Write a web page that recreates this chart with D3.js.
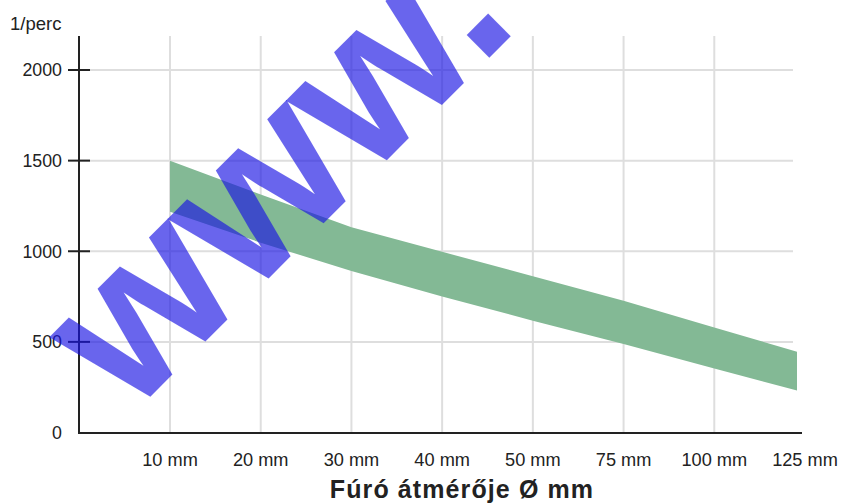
<!DOCTYPE html>
<html>
<head>
<meta charset="utf-8">
<script src="https://cdn.jsdelivr.net/npm/d3@7/dist/d3.min.js"></script>
<style>
  html, body { margin: 0; padding: 0; background: #fff; }
  svg { display: block; font-family: "Liberation Sans", Arial, Helvetica, sans-serif; }
</style>
</head>
<body>
<svg id="chart" width="845" height="503"></svg>
<script>
// ---- data ----
const categories = ["10 mm", "20 mm", "30 mm", "40 mm", "50 mm", "75 mm", "100 mm", "125 mm"];
const upperRpm = [1500, 1313, 1132, 997, 862, 727, 580, 433];
const lowerRpm = [1218, 1047, 891, 750, 617, 488, 353, 220];
const yTicks = [0, 500, 1000, 1500, 2000];
const yUnit = "1/perc";
const xTitle = "Fúró átmérője Ø mm";
const watermark = "www.";

// ---- layout ----
const svg = d3.select("#chart");
const axisX = 79, axisBottom = 433, axisTop = 36, axisRight = 802, plotRight = 797;

const x = d3.scaleLinear().domain([0, categories.length - 1]).range([170, 805]);
const y = d3.scaleLinear().domain([0, 2000]).range([432.5, 70]);

svg.append("defs").append("clipPath").attr("id", "plotClip")
  .append("rect").attr("x", axisX).attr("y", axisTop).attr("width", plotRight - axisX).attr("height", axisBottom - axisTop);

// gridlines
const grid = svg.append("g").attr("stroke", "#dedede").attr("stroke-width", 2);
grid.selectAll("line.h").data(yTicks.filter(d => d > 0)).join("line")
  .attr("x1", axisX).attr("x2", 793).attr("y1", d => y(d)).attr("y2", d => y(d));
grid.selectAll("line.v").data(categories.map((c, i) => i).filter(i => x(i) < plotRight)).join("line")
  .attr("x1", d => x(d)).attr("x2", d => x(d)).attr("y1", axisTop).attr("y2", axisBottom);

// band
const bandData = categories.map((c, i) => ({ i, hi: upperRpm[i], lo: lowerRpm[i] }));
const area = d3.area().x(d => x(d.i)).y0(d => y(d.lo)).y1(d => y(d.hi));
svg.append("path").datum(bandData).attr("clip-path", "url(#plotClip)")
  .attr("d", area).attr("fill", "#83b995");

// axes lines
svg.append("line").attr("x1", axisX).attr("x2", axisX).attr("y1", axisTop).attr("y2", axisBottom + 1)
  .attr("stroke", "#222").attr("stroke-width", 2);
svg.append("line").attr("x1", axisX - 1).attr("x2", axisRight).attr("y1", axisBottom).attr("y2", axisBottom)
  .attr("stroke", "#222").attr("stroke-width", 2);

// y ticks
svg.append("g").selectAll("line").data(yTicks.filter(d => d > 0)).join("line")
  .attr("x1", 68).attr("x2", 90).attr("y1", d => y(d)).attr("y2", d => y(d))
  .attr("stroke", "#222").attr("stroke-width", 2);
svg.append("g").selectAll("text").data(yTicks).join("text")
  .attr("x", 62).attr("y", d => y(d)).attr("dy", "0.36em").attr("text-anchor", "end")
  .attr("font-size", 17.8).attr("fill", "#222").text(d => d);

// x labels
svg.append("g").selectAll("text").data(categories).join("text")
  .attr("x", (d, i) => x(i)).attr("y", 466).attr("text-anchor", "middle")
  .attr("font-size", 18.2).attr("fill", "#222").text(d => d);

// unit label
svg.append("text").attr("x", 10).attr("y", 30).attr("font-size", 18.5).attr("fill", "#222").text(yUnit);

// x title
svg.append("text").attr("x", 462).attr("y", 498).attr("text-anchor", "middle")
  .attr("font-size", 25).attr("font-weight", "bold").attr("letter-spacing", 1.1)
  .attr("fill", "#222").text(xTitle);

// watermark
svg.append("text").attr("transform", "translate(130,417) rotate(-45)")
  .attr("font-size", 215).attr("font-weight", "bold")
  .attr("fill", "rgb(25,18,228)").attr("fill-opacity", 0.65)
  .text(watermark);
</script>
</body>
</html>
